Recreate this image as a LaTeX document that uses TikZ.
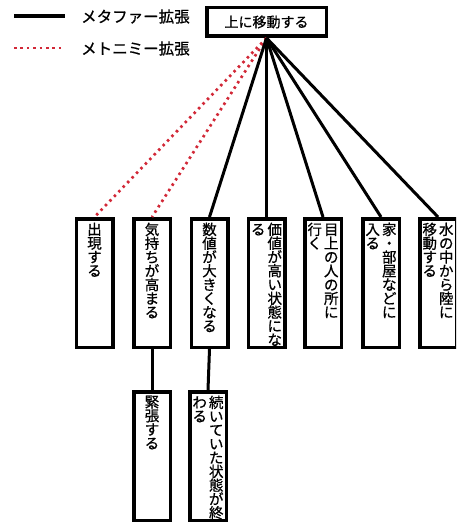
\documentclass[tikz,border=0pt]{standalone}
\usepackage{fontspec}
\newfontfamily\jp[FakeBold=0.7]{Noto Sans CJK JP}
\definecolor{metred}{RGB}{210,40,55}
\makeatletter
\newcommand\vcol[1]{\vtop{\baselineskip=13.8pt\lineskiplimit=-20pt\@tfor\vc@c:=#1\do{\hbox to 14.5pt{\hss\vc@c\hss}}}}
\makeatother
\newcommand\vgap{\hskip2pt}
\begin{document}
\begin{tikzpicture}[x=1pt,y=-1pt,
  box/.style={draw,line width=3.5pt,minimum width=36.5pt,minimum height=128.5pt,inner sep=0pt,anchor=north},
  topbox/.style={draw,line width=3.5pt,minimum width=119.5pt,minimum height=28.5pt,inner sep=0pt,font=\jp\fontsize{14pt}{14pt}\selectfont},
  vtext/.style={font=\jp\fontsize{14.5pt}{14.5pt}\selectfont,inner sep=0pt,anchor=north},
  legtext/.style={font=\jp\fontsize{15.5pt}{16pt}\selectfont,inner sep=0pt,anchor=west},
  meta/.style={line width=3pt},
  meto/.style={line width=2.7pt,metred,dash pattern=on 2.5pt off 3.9pt}]
\useasboundingbox (0,0) rectangle (456,524);
\clip (0,0) rectangle (456,524);
% legend
\coordinate (la) at (14,16); \coordinate (lb) at (65,16);
\coordinate (lc) at (14,48); \coordinate (ld) at (65,48);
\draw[meta,line width=3.3pt] (la) -- (lb);
\draw[meto] (lc) -- (ld);
\node[legtext] (l1) at (81,16.5) {メタファー拡張};
\node[legtext] (l2) at (81,48.5) {メトニミー拡張};
% top
\node[topbox] (top) at (266.5,22) {上に移動する};
% row 1
\node[box] (b1) at (94.5,217) {};
\node[box] (b2) at (152,217) {};
\node[box] (b3) at (209.5,217) {};
\node[box] (b4) at (266.5,217) {};
\node[box] (b5) at (323,217) {};
\node[box] (b6) at (381,217) {};
\node[box] (b7) at (438,217) {};
% row 2
\node[box] (c1) at (152,390) {};
\node[box] (c2) at (208,390) {};
% texts
\node[vtext] (t1) at (94.5,222.5) {\vcol{出現する}};
\node[vtext] (t2) at (152,222.5) {\vcol{気持ちが高まる}};
\node[vtext] (t3) at (209.5,222.5) {\vcol{数値が大きくなる}};
\node[vtext] (t4) at (266.5,222.5) {\vcol{る}\vgap\vcol{価値が高い状態にな}};
\node[vtext] (t5) at (323,222.5) {\vcol{行く}\vgap\vcol{目上の人の所に}};
\node[vtext] (t6) at (381,222.5) {\vcol{入る}\vgap\vcol{家・部屋などに}};
\node[vtext] (t7) at (438,222.5) {\vcol{移動する}\vgap\vcol{水の中から陸に}};
\node[vtext] (t8) at (152,395.5) {\vcol{緊張する}};
\node[vtext] (t9) at (208,395.5) {\vcol{わる}\vgap\vcol{続いていた状態が終}};
% connectors
\draw[meto] (top.south) -- (b1.north);
\draw[meto] (top.south) -- (b2.north);
\draw[meta] (top.south) -- (b3.north);
\draw[meta] (top.south) -- (b4.north);
\draw[meta] (top.south) -- (b5.north);
\draw[meta] (top.south) -- (b6.north);
\draw[meta] (top.south) -- (b7.north);
\draw[meta] (b2.south) -- (c1.north);
\draw[meta] (b3.south) -- (c2.north);
\end{tikzpicture}
\end{document}
